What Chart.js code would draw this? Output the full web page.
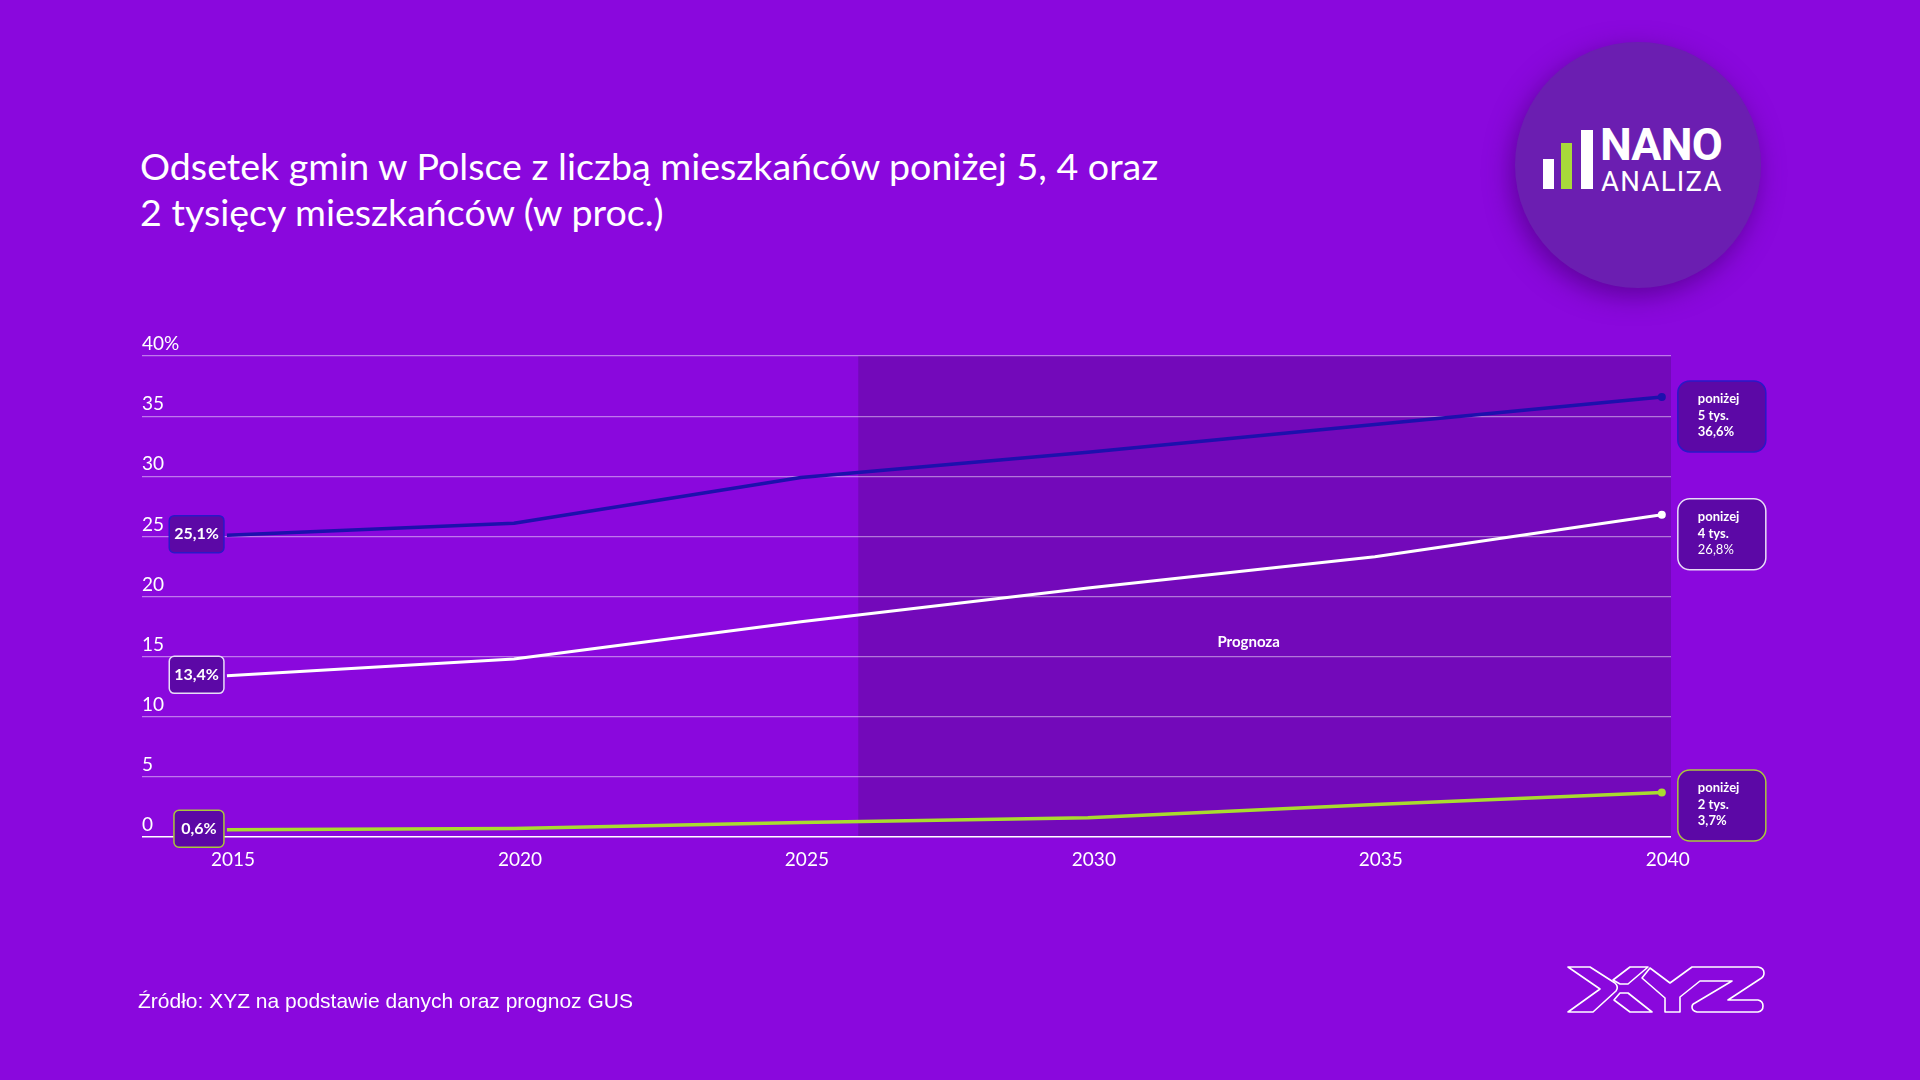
<!DOCTYPE html>
<html lang="pl">
<head>
<meta charset="utf-8">
<title>Odsetek gmin w Polsce</title>
<script src="https://cdn.jsdelivr.net/npm/chart.js@4.4.1/dist/chart.umd.min.js"></script>
<style>
  html, body { margin: 0; padding: 0; }
  body {
    width: 1920px; height: 1080px; position: relative; overflow: hidden;
    background: #8a08dd; color: #fff; font-family: Lato, "Noto Sans", sans-serif;
  }
  #title {
    position: absolute; left: 140px; top: 143px; margin: 0;
    font-size: 37.6px; line-height: 46px; font-weight: 400;
  }
  #source {
    position: absolute; left: 138px; top: 989px;
    font-family: "Liberation Sans", Arial, sans-serif; font-size: 21px;
  }
  #chart { position: absolute; left: 0; top: 0; }
  .logo {
    position: absolute; left: 1515px; top: 42px; width: 246px; height: 246px;
    border-radius: 50%; background: #6b1eb1;
    box-shadow: -4px 8px 26px rgba(70, 0, 120, 0.65);
  }
  .bar { position: absolute; background: #fff; }
  .nano, .analiza { position: absolute; font-family: Roboto, sans-serif; line-height: 1; white-space: nowrap; }
  .nano { left: 1600px; top: 122px; font-size: 45px; font-weight: 700; letter-spacing: -0.8px; }
  .analiza { left: 1601px; top: 168px; font-size: 27.5px; font-weight: 400; letter-spacing: 1.3px; }
  #xyz { position: absolute; left: 1540px; top: 950px; }
</style>
</head>
<body>
<h1 id="title">Odsetek gmin w Polsce z liczbą mieszkańców poniżej 5, 4 oraz<br>2 tysięcy mieszkańców (w proc.)</h1>

<div class="logo"></div>
<div class="bar" style="left:1543px; top:159px; width:11px; height:30px;"></div>
<div class="bar" style="left:1561px; top:143px; width:11px; height:46px; background:#a8d93a;"></div>
<div class="bar" style="left:1581px; top:130px; width:12px; height:59px;"></div>
<div class="nano">NANO</div>
<div class="analiza">ANALIZA</div>

<canvas id="chart" width="1920" height="1080"></canvas>

<div id="source">Źródło: XYZ na podstawie danych oraz prognoz GUS</div>

<svg id="xyz" width="240" height="80" viewBox="0 0 240 80" fill="none" stroke="#fff" stroke-width="1.6" stroke-linejoin="round">
  <path d="M28 17 L50 17 L75 33 Q79 37 76 41 L53 62 L28 62 L60 39 Z"/>
  <path d="M73 30 L90 17 L108 17 L88 34 L80 34 Z"/>
  <path d="M74 50 L80 43 L88 43 L112 62 L90 62 Z"/>
  <path d="M102 28 L110 18 L130 33 L152 17 L218 17 Q224 18 224 23 Q224 27 220 29 L188 50 L218 50 Q223 51 223 56 Q223 61 218 62 L157 62 Q152 61 152 57 Q152 54 155 53 L192 31 L160 31 L140 47 L140 62 L125 62 L125 48 Z"/>
</svg>

<script>
const years = [2015, 2020, 2025, 2030, 2035, 2040];
const below5k = [25.1, 26.1, 29.9, 32.0, 34.3, 36.6];
const below4k = [13.4, 14.8, 17.9, 20.7, 23.3, 26.8];
const below2k = [0.6, 0.7, 1.2, 1.6, 2.7, 3.7];
const yTicks = [0, 5, 10, 15, 20, 25, 30, 35, 40];
const forecastFrom = 2026;
const endLabelTop = ['poniżej', 'ponizej', 'poniżej'];
const endLabelMid = ['5 tys.', '4 tys.', '2 tys.'];

const lineColors = ['#1d10ad', '#ffffff', '#a9dc2f'];
const boxBorders = ['#2a18c8', '#e8dcf8', '#a9c83c'];
const boxFill = '#5c08a6';

function fmt(v) {
    return v.toFixed(1).replace('.', ',') + '%';
}

function toPoints(values) {
    return years.map((yr, i) => ({ x: yr, y: values[i] }));
}

const forecastShade = {
    id: 'forecastShade',
    beforeDraw(chart) {
        const { ctx, chartArea, scales: { x, y } } = chart;
        const left = x.getPixelForValue(forecastFrom);
        const top = y.getPixelForValue(40);
        const bottom = y.getPixelForValue(0);
        ctx.save();
        ctx.fillStyle = '#7309ba';
        ctx.fillRect(left, top, chartArea.right - left, bottom - top);
        ctx.fillStyle = '#fff';
        ctx.font = 'bold 15px Lato';
        ctx.textAlign = 'center';
        ctx.textBaseline = 'alphabetic';
        ctx.fillText('Prognoza', (left + chartArea.right) / 2 - 16, y.getPixelForValue(15.8));
        ctx.restore();
    }
};

const valueBoxes = {
    id: 'valueBoxes',
    afterDatasetsDraw(chart) {
        const { ctx, scales: { y } } = chart;
        ctx.save();
        chart.data.datasets.forEach((ds, i) => {
            const pts = chart.getDatasetMeta(i).data;
            const first = pts[0];
            const last = pts[pts.length - 1];

            // start value box
            ctx.font = 'bold 16px Lato';
            const txt = fmt(ds.data[0].y);
            const w = Math.max(ctx.measureText(txt).width + 10, 50);
            const h = 37;
            const bx = first.x - 3 - w;
            const by = first.y - 1 - h / 2;
            ctx.beginPath();
            ctx.roundRect(bx, by, w, h, 5);
            ctx.fillStyle = boxFill;
            ctx.fill();
            ctx.lineWidth = 1.5;
            ctx.strokeStyle = boxBorders[i];
            ctx.stroke();
            ctx.fillStyle = '#fff';
            ctx.textAlign = 'center';
            ctx.textBaseline = 'middle';
            ctx.fillText(txt, bx + w / 2, by + h / 2);

            // end value box
            const rw = 88, rh = 71;
            const rx = last.x + 16;
            let ry = last.y - 16;
            if (ry + rh > y.bottom + 4) ry = y.bottom + 4 - rh;
            ctx.beginPath();
            ctx.roundRect(rx, ry, rw, rh, 12);
            ctx.fillStyle = boxFill;
            ctx.fill();
            ctx.strokeStyle = boxBorders[i];
            ctx.stroke();
            ctx.fillStyle = '#fff';
            ctx.textAlign = 'left';
            ctx.textBaseline = 'alphabetic';
            ctx.font = 'bold 13px Lato';
            ctx.fillText(endLabelTop[i], rx + 20, ry + 22);
            ctx.fillText(endLabelMid[i], rx + 20, ry + 39);
            ctx.font = (i === 1 ? '' : 'bold ') + '13px Lato';
            ctx.fillText(fmt(ds.data[ds.data.length - 1].y), rx + 20, ry + 55);
        });
        ctx.restore();
    }
};

function lineDataset(label, values, color, width) {
    return {
        label: label,
        data: toPoints(values),
        borderColor: color,
        backgroundColor: color,
        borderWidth: width,
        borderJoinStyle: 'round',
        tension: 0,
        pointRadius: ctx => ctx.dataIndex === years.length - 1 ? 4 : 0,
        pointBorderWidth: 0,
        pointBackgroundColor: color
    };
}

new Chart(document.getElementById('chart'), {
    type: 'line',
    data: {
        datasets: [
            lineDataset('poniżej 5 tys.', below5k, lineColors[0], 3.5),
            lineDataset('poniżej 4 tys.', below4k, lineColors[1], 3),
            lineDataset('poniżej 2 tys.', below2k, lineColors[2], 3.5)
        ]
    },
    options: {
        responsive: false,
        animation: false,
        layout: { padding: { left: 142, right: 249, top: 356, bottom: 203 } },
        plugins: {
            legend: { display: false },
            tooltip: { enabled: false }
        },
        scales: {
            x: {
                type: 'linear',
                min: 2013.52,
                max: 2040.16,
                afterBuildTicks: s => { s.ticks = years.map(v => ({ value: v })); },
                afterFit: s => { s.height = 40; },
                grid: { display: false },
                border: { display: false },
                ticks: {
                    color: '#fff',
                    font: { family: 'Lato', size: 19 },
                    padding: 3,
                    labelOffset: 6,
                    maxRotation: 0,
                    autoSkip: false,
                    callback: v => String(v)
                }
            },
            y: {
                min: 0,
                max: 40,
                afterBuildTicks: s => { s.ticks = yTicks.map(v => ({ value: v })); },
                grid: {
                    color: c => c.tick.value === 0 ? '#ffffff' : 'rgba(255,255,255,0.45)',
                    lineWidth: c => c.tick.value === 0 ? 1.5 : 1.2,
                    drawTicks: false
                },
                border: { display: false },
                ticks: {
                    mirror: true,
                    padding: 0,
                    labelOffset: -12,
                    color: '#fff',
                    font: { family: 'Lato', size: 19 },
                    callback: v => v === 40 ? '40%' : String(v)
                }
            }
        }
    },
    plugins: [forecastShade, valueBoxes]
});
</script>
</body>
</html>
